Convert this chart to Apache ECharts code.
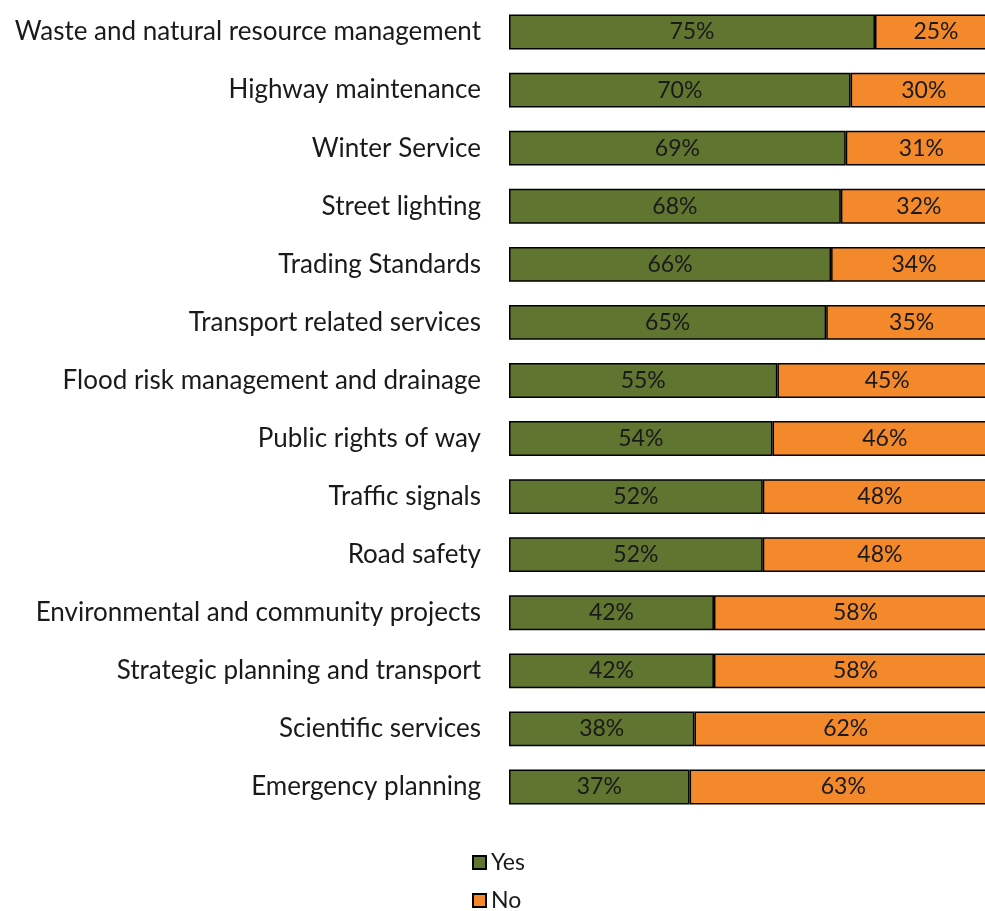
<!DOCTYPE html>
<html>
<head>
<meta charset="utf-8">
<script src="https://cdn.jsdelivr.net/npm/echarts@6/dist/echarts.min.js"></script>
<style>
  html, body { margin: 0; padding: 0; background: #fff; overflow: hidden; }
  #chart { width: 985px; height: 911px; }
</style>
</head>
<body>
<div id="chart"></div>
<script>
// Services, listed top to bottom
const services = [
  'Waste and natural resource management',
  'Highway maintenance',
  'Winter Service',
  'Street lighting',
  'Trading Standards',
  'Transport related services',
  'Flood risk management and drainage',
  'Public rights of way',
  'Traffic signals',
  'Road safety',
  'Environmental and community projects',
  'Strategic planning and transport',
  'Scientific services',
  'Emergency planning'
];
// Share of responses (%)
const yesValues = [75, 70, 69, 68, 66, 65, 55, 54, 52, 52, 42, 42, 38, 37];
const noValues  = [25, 30, 31, 32, 34, 35, 45, 46, 48, 48, 58, 58, 62, 63];
const seriesNames = ['Yes', 'No'];

const FONT = 'Lato';
const chart = echarts.init(document.getElementById('chart'));

const barLabel = {
  show: true,
  position: 'inside',
  formatter: p => p.value + '%',
  color: '#1a1a1a',
  fontFamily: FONT,
  fontSize: 23,
  padding: [4, 0, 0, 0]
};

const legendBase = {
  orient: 'vertical',
  left: 467,
  itemWidth: 13, itemHeight: 13,
  icon: 'rect',
  textStyle: { color: '#1a1a1a', fontFamily: FONT, fontSize: 23 }
};

chart.setOption({
  animation: false,
  // plot area runs a little past the right edge of the canvas
  grid: { left: 509, width: 488, top: 3, bottom: 95, outerBoundsMode: 'none', containLabel: false },
  xAxis: { type: 'value', min: 0, max: 100, show: false },
  yAxis: {
    type: 'category',
    data: services,
    inverse: true,
    axisLine: { show: false },
    axisTick: { show: false },
    axisLabel: { color: '#1a1a1a', fontFamily: FONT, fontSize: 26, margin: 28, padding: [5, 0, 0, 0] }
  },
  legend: [
    Object.assign({}, legendBase, { top: 846, data: [seriesNames[0]] }),
    Object.assign({}, legendBase, { top: 884, data: [seriesNames[1]] })
  ],
  series: [
    {
      name: seriesNames[0], type: 'bar', stack: 'total', data: yesValues,
      barCategoryGap: '40%',
      itemStyle: { color: '#5f7530', borderColor: '#000', borderWidth: 1.5 },
      label: barLabel
    },
    {
      name: seriesNames[1], type: 'bar', stack: 'total', data: noValues,
      itemStyle: { color: '#f4892c', borderColor: '#000', borderWidth: 1.5 },
      label: barLabel
    }
  ]
});
</script>
</body>
</html>
